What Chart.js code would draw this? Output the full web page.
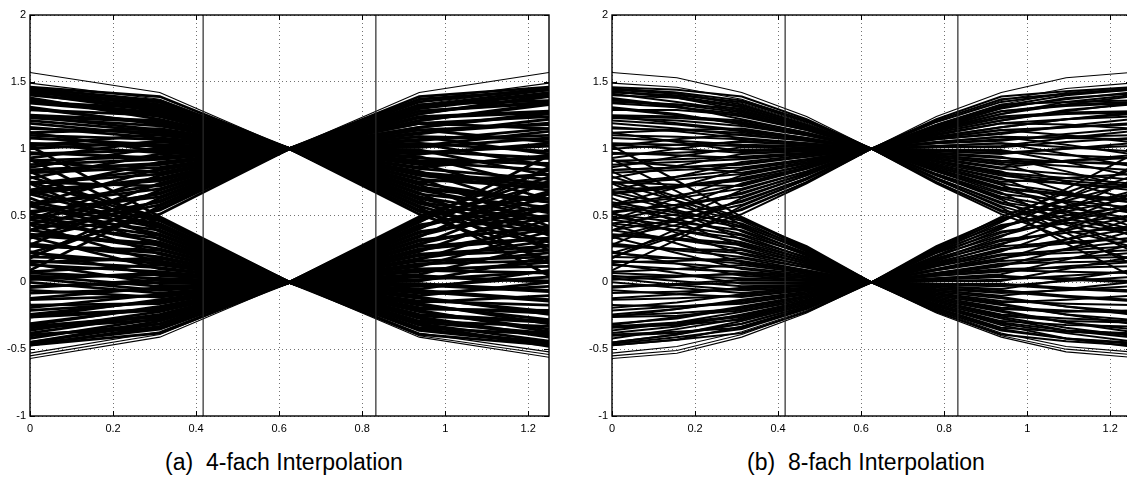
<!DOCTYPE html>
<html>
<head>
<meta charset="utf-8">
<script src="https://cdn.jsdelivr.net/npm/chart.js@4/dist/chart.umd.min.js"></script>
<style>
  html, body { margin: 0; padding: 0; background: #fff; }
  body { width: 1127px; height: 480px; overflow: hidden; position: relative; }
  canvas { position: absolute; top: 0; }
  #eye4 { left: 0; }
  #eye8 { left: 582px; }
  .caption {
    position: absolute; top: 451px; width: 400px; text-align: center;
    font-family: "Liberation Sans", Arial, Helvetica, sans-serif; font-size: 23px;
    line-height: 23px; color: #000; white-space: pre;
  }
</style>
</head>
<body>
<canvas id="eye4" width="560" height="440"></canvas>
<canvas id="eye8" width="560" height="440"></canvas>
<div class="caption" style="left:84px">(a)  4-fach Interpolation</div>
<div class="caption" style="left:666px">(b)  8-fach Interpolation</div>
<script>
// Sample instants of one eye window (symbol centre at 0.625)
const quadSampleX = [0, 0.3125, 0.625, 0.9375, 1.25];
const octSampleX = [0, 0.15625, 0.3125, 0.46875, 0.625, 0.78125, 0.9375, 1.09375, 1.25];
const xTicks = [0, 0.2, 0.4, 0.6, 0.8, 1, 1.2];
const yTicks = [-1, -0.5, 0, 0.5, 1, 1.5, 2];
const markerX = [0.417, 0.833];
const levelHigh = 1;
const levelLow = 0;

// Traces before the centre sample: values at x = 0, 0.15625, 0.3125, 0.46875
const leadHigh = [
  [1.57, 1.53, 1.42, 1.24], [1.49, 1.46, 1.37, 1.21], [1.45, 1.42, 1.34, 1.19],
  [1.44, 1.41, 1.33, 1.18], [1.40, 1.38, 1.31, 1.17], [1.43, 1.38, 1.29, 1.16],
  [1.36, 1.33, 1.27, 1.15], [1.29, 1.29, 1.25, 1.14], [1.38, 1.32, 1.22, 1.12],
  [1.24, 1.23, 1.20, 1.11], [1.31, 1.26, 1.18, 1.10], [1.12, 1.14, 1.15, 1.08],
  [1.21, 1.18, 1.13, 1.07], [1.02, 1.07, 1.11, 1.06], [1.16, 1.13, 1.08, 1.04],
  [0.93, 1.00, 1.06, 1.03], [1.08, 1.06, 1.03, 1.02], [0.86, 0.94, 1.01, 1.00],
  [1.12, 1.05, 0.98, 0.99], [0.78, 0.87, 0.96, 0.98], [0.97, 0.95, 0.93, 0.96],
  [0.69, 0.79, 0.90, 0.95], [0.84, 0.86, 0.88, 0.94], [0.58, 0.71, 0.85, 0.92],
  [0.91, 0.87, 0.82, 0.90], [0.47, 0.63, 0.80, 0.89], [0.66, 0.71, 0.77, 0.88],
  [0.39, 0.56, 0.74, 0.86], [0.75, 0.73, 0.72, 0.85], [0.28, 0.48, 0.69, 0.83],
  [0.52, 0.58, 0.66, 0.82], [0.18, 0.40, 0.63, 0.80], [0.44, 0.51, 0.60, 0.78],
  [0.09, 0.32, 0.57, 0.77], [0.33, 0.43, 0.54, 0.75], [0.22, 0.36, 0.51, 0.74],
  [1.46, 1.44, 1.39, 1.22], [1.45, 1.42, 1.36, 1.21], [1.42, 1.40, 1.35, 1.20],
  [1.43, 1.39, 1.32, 1.18], [1.35, 1.33, 1.30, 1.17], [1.41, 1.35, 1.28, 1.16],
  [1.34, 1.31, 1.26, 1.15], [1.37, 1.31, 1.24, 1.14], [1.25, 1.24, 1.21, 1.12],
  [1.30, 1.25, 1.19, 1.11], [1.23, 1.21, 1.17, 1.10], [1.24, 1.19, 1.14, 1.08],
  [1.15, 1.14, 1.12, 1.07], [1.19, 1.15, 1.10, 1.06], [1.10, 1.09, 1.07, 1.04],
  [1.00, 1.03, 1.05, 1.03], [1.04, 1.03, 1.02, 1.01], [0.96, 0.97, 0.99, 0.99],
  [1.03, 1.00, 0.97, 0.98], [0.91, 0.92, 0.94, 0.97], [0.88, 0.90, 0.92, 0.96],
  [0.84, 0.86, 0.89, 0.94], [0.82, 0.84, 0.86, 0.92], [0.74, 0.79, 0.84, 0.91],
  [0.74, 0.77, 0.81, 0.89], [0.67, 0.72, 0.78, 0.87], [0.69, 0.72, 0.76, 0.86],
  [0.58, 0.65, 0.73, 0.85], [0.58, 0.63, 0.70, 0.83], [0.47, 0.56, 0.67, 0.81],
  [0.53, 0.58, 0.64, 0.80], [0.34, 0.46, 0.61, 0.78], [0.39, 0.47, 0.58, 0.77],
  [0.19, 0.35, 0.55, 0.75]
];
const leadLow = [
  [-0.57, -0.53, -0.41, -0.23], [-0.55, -0.51, -0.39, -0.22], [-0.53, -0.48, -0.37, -0.21],
  [-0.47, -0.43, -0.33, -0.19], [-0.40, -0.38, -0.31, -0.18], [-0.45, -0.39, -0.29, -0.17],
  [-0.33, -0.31, -0.26, -0.15], [-0.38, -0.33, -0.24, -0.14], [-0.26, -0.25, -0.21, -0.12],
  [-0.31, -0.27, -0.19, -0.11], [-0.17, -0.18, -0.16, -0.09], [-0.24, -0.20, -0.14, -0.08],
  [-0.06, -0.09, -0.11, -0.06], [-0.19, -0.15, -0.09, -0.05], [0.03, -0.02, -0.06, -0.04],
  [-0.12, -0.09, -0.04, -0.02], [0.14, 0.07, -0.01, -0.01], [-0.04, -0.01, 0.02, 0.01],
  [0.23, 0.14, 0.05, 0.02], [0.02, 0.04, 0.07, 0.04], [0.34, 0.22, 0.10, 0.05],
  [0.08, 0.10, 0.13, 0.07], [0.43, 0.29, 0.15, 0.08], [0.15, 0.16, 0.18, 0.09],
  [0.52, 0.37, 0.21, 0.11], [0.27, 0.25, 0.24, 0.12], [0.63, 0.45, 0.27, 0.14],
  [0.36, 0.33, 0.29, 0.15], [0.74, 0.53, 0.32, 0.17], [0.49, 0.42, 0.35, 0.18],
  [0.83, 0.61, 0.38, 0.20], [0.58, 0.50, 0.41, 0.21], [0.92, 0.68, 0.43, 0.23],
  [0.68, 0.57, 0.46, 0.24], [0.79, 0.64, 0.48, 0.25], [1.02, 0.76, 0.49, 0.26],
  [-0.47, -0.43, -0.38, -0.22], [-0.46, -0.41, -0.35, -0.20], [-0.39, -0.37, -0.34, -0.19],
  [-0.45, -0.39, -0.31, -0.18], [-0.34, -0.32, -0.28, -0.16], [-0.42, -0.35, -0.27, -0.15],
  [-0.33, -0.30, -0.25, -0.14], [-0.36, -0.30, -0.22, -0.13], [-0.25, -0.23, -0.20, -0.11],
  [-0.32, -0.26, -0.18, -0.10], [-0.21, -0.18, -0.15, -0.09], [-0.26, -0.20, -0.13, -0.07],
  [-0.13, -0.12, -0.10, -0.06], [0.00, -0.04, -0.08, -0.04], [-0.08, -0.07, -0.05, -0.03],
  [0.05, 0.01, -0.03, -0.02], [-0.03, -0.02, 0.00, 0.00], [0.07, 0.05, 0.03, 0.02],
  [0.04, 0.05, 0.06, 0.03], [0.13, 0.10, 0.08, 0.05], [0.16, 0.14, 0.11, 0.06],
  [0.22, 0.18, 0.14, 0.08], [0.19, 0.18, 0.16, 0.09], [0.29, 0.24, 0.19, 0.11],
  [0.28, 0.25, 0.22, 0.13], [0.39, 0.32, 0.25, 0.14], [0.35, 0.32, 0.28, 0.16],
  [0.47, 0.39, 0.30, 0.17], [0.44, 0.39, 0.33, 0.19], [0.57, 0.47, 0.36, 0.21],
  [0.51, 0.45, 0.39, 0.22], [0.66, 0.54, 0.42, 0.24], [0.60, 0.52, 0.44, 0.25],
  [0.75, 0.61, 0.47, 0.27]
];
// Traces after the centre sample: values at x = 0.78125, 0.9375, 1.09375, 1.25
const trailHigh = [
  [1.24, 1.42, 1.53, 1.57], [1.20, 1.36, 1.45, 1.49], [1.18, 1.33, 1.42, 1.46],
  [1.17, 1.32, 1.40, 1.44], [1.16, 1.30, 1.38, 1.41], [1.15, 1.28, 1.33, 1.35],
  [1.14, 1.26, 1.35, 1.40], [1.13, 1.23, 1.26, 1.27], [1.12, 1.21, 1.29, 1.33],
  [1.10, 1.19, 1.18, 1.15], [1.09, 1.16, 1.22, 1.26], [1.08, 1.14, 1.10, 1.05],
  [1.07, 1.12, 1.16, 1.19], [1.05, 1.09, 1.03, 0.96], [1.04, 1.07, 1.09, 1.10],
  [1.02, 1.04, 0.96, 0.87], [1.01, 1.02, 1.08, 1.13], [0.99, 0.99, 0.90, 0.80],
  [0.98, 0.97, 1.00, 1.02], [0.97, 0.94, 0.83, 0.71], [0.95, 0.91, 0.90, 0.89],
  [0.94, 0.89, 0.75, 0.62], [0.93, 0.86, 0.91, 0.95], [0.91, 0.83, 0.68, 0.53],
  [0.90, 0.81, 0.76, 0.72], [0.88, 0.78, 0.59, 0.42], [0.87, 0.75, 0.78, 0.81],
  [0.86, 0.73, 0.53, 0.35], [0.84, 0.70, 0.65, 0.60], [0.83, 0.67, 0.45, 0.24],
  [0.81, 0.64, 0.56, 0.48], [0.80, 0.62, 0.37, 0.14], [0.78, 0.59, 0.48, 0.38],
  [0.77, 0.56, 0.29, 0.05], [0.75, 0.53, 0.39, 0.27], [0.74, 0.51, 0.33, 0.17],
  [1.22, 1.39, 1.43, 1.46], [1.21, 1.37, 1.41, 1.44], [1.20, 1.35, 1.41, 1.45],
  [1.18, 1.33, 1.35, 1.36], [1.17, 1.31, 1.37, 1.42], [1.16, 1.28, 1.32, 1.34],
  [1.15, 1.26, 1.33, 1.39], [1.14, 1.24, 1.27, 1.28], [1.12, 1.21, 1.28, 1.34],
  [1.11, 1.19, 1.22, 1.24], [1.09, 1.16, 1.22, 1.27], [1.08, 1.14, 1.16, 1.18],
  [1.07, 1.11, 1.17, 1.22], [1.05, 1.09, 1.08, 1.07], [1.04, 1.06, 1.11, 1.15],
  [1.02, 1.04, 1.01, 0.98], [1.01, 1.01, 1.05, 1.08], [0.99, 0.98, 0.95, 0.93],
  [0.98, 0.96, 1.00, 1.04], [0.96, 0.93, 0.90, 0.88], [0.95, 0.90, 0.87, 0.84],
  [0.94, 0.88, 0.91, 0.93], [0.92, 0.85, 0.81, 0.77], [0.91, 0.82, 0.78, 0.74],
  [0.89, 0.80, 0.74, 0.69], [0.88, 0.77, 0.74, 0.71], [0.86, 0.74, 0.67, 0.60],
  [0.85, 0.71, 0.66, 0.62], [0.83, 0.69, 0.60, 0.52], [0.81, 0.66, 0.61, 0.56],
  [0.80, 0.63, 0.51, 0.40], [0.78, 0.60, 0.53, 0.46], [0.77, 0.57, 0.43, 0.30],
  [0.75, 0.54, 0.45, 0.36]
];
const trailLow = [
  [-0.23, -0.41, -0.52, -0.56], [-0.22, -0.40, -0.50, -0.54], [-0.21, -0.38, -0.48, -0.52],
  [-0.20, -0.35, -0.42, -0.45], [-0.18, -0.32, -0.42, -0.48], [-0.17, -0.30, -0.36, -0.38],
  [-0.16, -0.27, -0.36, -0.41], [-0.14, -0.25, -0.29, -0.30], [-0.13, -0.22, -0.30, -0.35],
  [-0.12, -0.20, -0.22, -0.21], [-0.10, -0.17, -0.24, -0.28], [-0.09, -0.15, -0.13, -0.10],
  [-0.07, -0.12, -0.18, -0.22], [-0.06, -0.10, -0.05, 0.00], [-0.04, -0.07, -0.11, -0.14],
  [-0.03, -0.05, 0.02, 0.09], [-0.01, -0.02, -0.05, -0.07], [0.01, 0.01, 0.10, 0.19],
  [0.02, 0.04, 0.03, 0.01], [0.03, 0.06, 0.17, 0.28], [0.05, 0.09, 0.08, 0.07],
  [0.06, 0.12, 0.25, 0.38], [0.07, 0.14, 0.15, 0.16], [0.09, 0.17, 0.32, 0.47],
  [0.10, 0.20, 0.22, 0.24], [0.12, 0.23, 0.40, 0.57], [0.13, 0.25, 0.29, 0.33],
  [0.14, 0.28, 0.47, 0.66], [0.16, 0.31, 0.37, 0.42], [0.17, 0.34, 0.55, 0.76],
  [0.19, 0.37, 0.46, 0.55], [0.20, 0.40, 0.63, 0.86], [0.22, 0.42, 0.53, 0.63],
  [0.23, 0.45, 0.70, 0.95], [0.24, 0.47, 0.61, 0.74], [0.25, 0.49, 0.67, 0.84],
  [-0.22, -0.39, -0.44, -0.47], [-0.21, -0.36, -0.42, -0.46], [-0.19, -0.34, -0.37, -0.39],
  [-0.18, -0.31, -0.38, -0.44], [-0.17, -0.29, -0.32, -0.33], [-0.15, -0.26, -0.34, -0.40],
  [-0.14, -0.24, -0.27, -0.29], [-0.12, -0.21, -0.30, -0.37], [-0.11, -0.19, -0.21, -0.23],
  [-0.09, -0.16, -0.24, -0.31], [-0.08, -0.14, -0.16, -0.17], [-0.06, -0.11, -0.18, -0.24],
  [-0.05, -0.08, -0.06, -0.03], [-0.03, -0.06, -0.10, -0.13], [-0.02, -0.03, 0.01, 0.04],
  [-0.01, -0.01, -0.04, -0.06], [0.01, 0.02, 0.05, 0.08], [0.03, 0.05, 0.02, 0.00],
  [0.05, 0.08, 0.12, 0.15], [0.06, 0.10, 0.11, 0.12], [0.07, 0.13, 0.18, 0.22],
  [0.09, 0.16, 0.18, 0.19], [0.10, 0.18, 0.25, 0.31], [0.12, 0.21, 0.24, 0.27],
  [0.14, 0.24, 0.32, 0.40], [0.15, 0.27, 0.30, 0.33], [0.17, 0.29, 0.39, 0.49],
  [0.18, 0.32, 0.37, 0.41], [0.20, 0.35, 0.47, 0.58], [0.22, 0.38, 0.44, 0.50],
  [0.23, 0.41, 0.55, 0.68], [0.25, 0.43, 0.50, 0.57], [0.26, 0.46, 0.63, 0.79],
  [0.27, 0.48, 0.57, 0.66]
];

const FONT = '"Liberation Sans", Arial, Helvetica, sans-serif';

function toPoints(xs, ys) {
  return xs.map((x, i) => ({ x: x, y: ys[i] }));
}

// Build the trace datasets for one panel; the three outermost traces of each
// bundle are drawn thinner so they stand apart from the dense core
function eyeDatasets(fine, width) {
  const sets = [];
  const style = { borderColor: '#000', pointRadius: 0, fill: false, tension: 0 };
  // vertical reference lines, drawn on top of the traces
  markerX.forEach(mx => {
    sets.push(Object.assign({}, style, {
      data: [{ x: mx, y: -1 }, { x: mx, y: 2 }], borderColor: '#2a2a2a', borderWidth: 1.2
    }));
  });
  const lw = i => (i < 3 ? 1.1 : width);
  const addLead = (rows, level) => rows.forEach((r, i) => {
    const ys = fine ? [r[0], r[1], r[2], r[3], level] : [r[0], r[2], level];
    const xs = fine ? octSampleX.slice(0, 5) : quadSampleX.slice(0, 3);
    sets.push(Object.assign({}, style, { borderWidth: lw(i), data: toPoints(xs, ys) }));
  });
  const addTrail = (rows, level) => rows.forEach((r, i) => {
    const ys = fine ? [level, r[0], r[1], r[2], r[3]] : [level, r[1], r[3]];
    const xs = fine ? octSampleX.slice(4) : quadSampleX.slice(2);
    sets.push(Object.assign({}, style, { borderWidth: lw(i), data: toPoints(xs, ys) }));
  });
  addLead(leadHigh, levelHigh);
  addLead(leadLow, levelLow);
  addTrail(trailHigh, levelHigh);
  addTrail(trailLow, levelLow);
  return sets;
}

// Box around the plot area with inward tick marks on all four sides
const frameTicks = {
  id: 'frameTicks',
  afterDraw(chart) {
    const { ctx, chartArea: a, scales } = chart;
    const sx = scales.x, sy = scales.y;
    ctx.save();
    ctx.strokeStyle = '#000';
    ctx.lineWidth = 1;
    ctx.beginPath();
    xTicks.forEach(v => {
      const px = Math.round(sx.getPixelForValue(v)) + 0.5;
      ctx.moveTo(px, a.bottom); ctx.lineTo(px, a.bottom - 5);
      ctx.moveTo(px, a.top); ctx.lineTo(px, a.top + 5);
    });
    yTicks.forEach(v => {
      const py = Math.round(sy.getPixelForValue(v)) + 0.5;
      ctx.moveTo(a.left, py); ctx.lineTo(a.left + 5, py);
      ctx.moveTo(a.right, py); ctx.lineTo(a.right - 5, py);
    });
    ctx.stroke();
    ctx.lineWidth = 1.4;
    ctx.strokeRect(a.left, a.top, a.right - a.left, a.bottom - a.top);
    ctx.restore();
  }
};

function makeEye(id, fine, width) {
  return new Chart(document.getElementById(id), {
    type: 'line',
    data: { datasets: eyeDatasets(fine, width) },
    options: {
      responsive: false,
      animation: false,
      events: [],
      parsing: false,
      normalized: true,
      layout: { padding: { left: 0, right: 11, top: 15, bottom: 0 } },
      plugins: { legend: { display: false }, tooltip: { enabled: false } },
      scales: {
        x: {
          type: 'linear', min: 0, max: 1.25,
          afterBuildTicks: s => { s.ticks = xTicks.map(v => ({ value: v })); },
          afterFit: s => { s.height = 24; },
          grid: { color: 'rgba(0,0,0,0.55)', lineWidth: 1, drawTicks: false },
          border: { display: false, dash: [1, 3] },
          ticks: {
            color: '#000', padding: 6, maxRotation: 0, autoSkip: false,
            font: { family: FONT, size: 11 }, callback: v => String(v)
          }
        },
        y: {
          type: 'linear', min: -1, max: 2,
          afterBuildTicks: s => { s.ticks = yTicks.map(v => ({ value: v })); },
          afterFit: s => { s.width = 30; },
          grid: { color: 'rgba(0,0,0,0.55)', lineWidth: 1, drawTicks: false },
          border: { display: false, dash: [1, 3] },
          ticks: {
            color: '#000', padding: 4, autoSkip: false,
            font: { family: FONT, size: 11 }, callback: v => String(v)
          }
        }
      }
    },
    plugins: [frameTicks]
  });
}

makeEye('eye4', false, 2.8);
makeEye('eye8', true, 2.0);
</script>
</body>
</html>
